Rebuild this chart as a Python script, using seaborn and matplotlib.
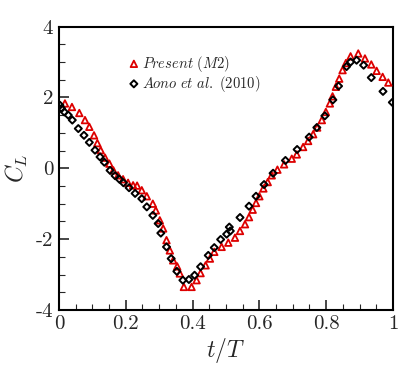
import matplotlib
matplotlib.use("Agg")
import matplotlib.pyplot as plt
import seaborn as sns
import numpy as np
import pandas as pd
from matplotlib.ticker import MultipleLocator

# Present (M2)
present_t = [0.018, 0.039, 0.061, 0.078, 0.091, 0.105, 0.115, 0.125, 0.138, 0.151,
             0.163, 0.177, 0.192, 0.207, 0.222, 0.234, 0.248, 0.263, 0.281, 0.290,
             0.302, 0.312, 0.322, 0.332, 0.342, 0.354, 0.362, 0.374, 0.397, 0.412,
             0.424, 0.439, 0.452, 0.465, 0.487, 0.507, 0.527, 0.542, 0.557, 0.569,
             0.580, 0.590, 0.600, 0.612, 0.625, 0.637, 0.654, 0.674, 0.697, 0.712,
             0.731, 0.746, 0.761, 0.773, 0.787, 0.799, 0.811, 0.819, 0.829, 0.839,
             0.849, 0.859, 0.873, 0.896, 0.916, 0.935, 0.951, 0.969, 0.986]
present_cl = [1.83, 1.73, 1.56, 1.36, 1.17, 0.93, 0.71, 0.51, 0.30, 0.13,
              -0.06, -0.20, -0.31, -0.41, -0.48, -0.49, -0.62, -0.79, -1.00, -1.19,
              -1.47, -1.70, -2.03, -2.32, -2.60, -2.77, -2.97, -3.35, -3.35, -3.16,
              -2.96, -2.74, -2.55, -2.36, -2.22, -2.10, -1.96, -1.77, -1.58, -1.38,
              -1.17, -0.98, -0.79, -0.57, -0.39, -0.20, -0.04, 0.11, 0.27, 0.39,
              0.60, 0.77, 0.96, 1.15, 1.36, 1.59, 1.83, 2.03, 2.30, 2.53,
              2.77, 2.97, 3.16, 3.24, 3.10, 2.93, 2.75, 2.58, 2.42]

# Aono et al. (2010)
aono_t = [0.003, 0.008, 0.016, 0.028, 0.040, 0.058, 0.075, 0.091, 0.108, 0.123,
          0.136, 0.153, 0.168, 0.181, 0.193, 0.210, 0.228, 0.248, 0.263, 0.281,
          0.297, 0.305, 0.322, 0.336, 0.353, 0.371, 0.389, 0.406, 0.424, 0.447,
          0.465, 0.484, 0.502, 0.510, 0.513, 0.542, 0.569, 0.590, 0.614, 0.641,
          0.678, 0.713, 0.749, 0.772, 0.796, 0.820, 0.837, 0.861, 0.873, 0.891,
          0.912, 0.935, 0.970, 0.998]
aono_cl = [1.78, 1.69, 1.59, 1.50, 1.36, 1.12, 0.93, 0.73, 0.51, 0.32,
           0.17, -0.06, -0.21, -0.31, -0.41, -0.55, -0.71, -0.86, -1.09, -1.33,
           -1.56, -1.83, -2.22, -2.55, -2.91, -3.16, -3.14, -3.02, -2.78, -2.46,
           -2.24, -2.01, -1.86, -1.66, -1.77, -1.39, -1.07, -0.79, -0.46, -0.14,
           0.22, 0.53, 0.88, 1.15, 1.48, 1.93, 2.32, 2.87, 3.00, 3.05,
           2.91, 2.56, 2.17, 1.86]

x_ticks = [0, 0.2, 0.4, 0.6, 0.8, 1]
x_ticklabels = ["0", "0.2", "0.4", "0.6", "0.8", "1"]
y_ticks = [-4, -2, 0, 2, 4]
y_ticklabels = ["-4", "-2", "0", "2", "4"]

sns.set_style("ticks")
plt.rcParams["font.family"] = ["cmr10", "DejaVu Serif"]
plt.rcParams["mathtext.fontset"] = "cm"
plt.rcParams["axes.unicode_minus"] = False
plt.rcParams["axes.formatter.use_mathtext"] = True

fig = plt.figure(figsize=(4.15, 3.69), dpi=100)
ax = fig.add_axes([0.142, 0.160, 0.805, 0.768])

df_p = pd.DataFrame({"t": present_t, "cl": present_cl})
df_a = pd.DataFrame({"t": aono_t, "cl": aono_cl})

sns.scatterplot(data=df_p, x="t", y="cl", ax=ax, marker="^", s=22,
                facecolor="none", edgecolor="#dd0000", linewidth=1.3,
                label=r"$Present\ (M2)$", zorder=3)
sns.scatterplot(data=df_a, x="t", y="cl", ax=ax, marker="D", s=13,
                facecolor="none", edgecolor="black", linewidth=1.4,
                label=r"$Aono\ et\ al.\ (2010)$", zorder=4)

ax.set_xlim(0, 1)
ax.set_ylim(-4, 4)
ax.set_xticks(x_ticks)
ax.set_xticklabels(x_ticklabels)
ax.set_yticks(y_ticks)
ax.set_yticklabels(y_ticklabels)
ax.xaxis.set_minor_locator(MultipleLocator(0.05))
ax.yaxis.set_minor_locator(MultipleLocator(0.5))
ax.tick_params(which="major", direction="in", length=7, width=1.2, labelsize=15,
               top=False, right=False, pad=4)
ax.tick_params(which="minor", direction="in", length=4, width=0.8,
               top=False, right=False)
for s in ax.spines.values():
    s.set_linewidth(1.5)
    s.set_color("black")

ax.set_xlabel(r"$t/T$", fontsize=17, labelpad=2)
ax.set_ylabel(r"$C_L$", fontsize=17, labelpad=4)

leg = ax.legend(loc="upper left", bbox_to_anchor=(0.185, 0.925), frameon=False,
                fontsize=10.5, handletextpad=0.05, labelspacing=0.0,
                handlelength=1.0, borderaxespad=0)

fig.savefig("out.png", dpi=100)
